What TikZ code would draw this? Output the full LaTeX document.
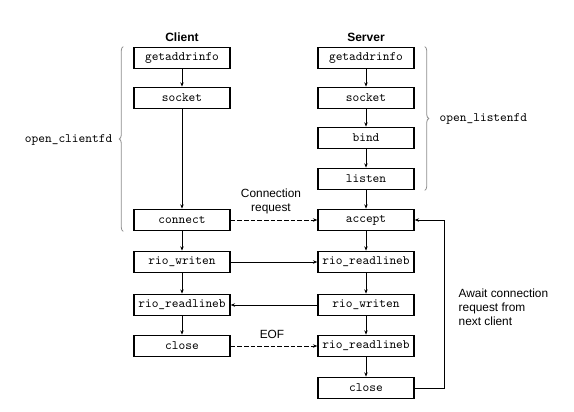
\documentclass[tikz,border=0pt]{standalone}
\usepackage{fontspec}
\setsansfont{Liberation Sans}
\usetikzlibrary{arrows.meta, positioning, decorations.pathreplacing}

\begin{document}
\begin{tikzpicture}[
    x=0.75pt, y=-0.75pt,
    >={Stealth[length=3.2pt, width=2.6pt]},
    fn/.style={draw, line width=1.1pt, minimum width=72pt, minimum height=16pt,
               inner sep=1pt, font=\fontsize{9.6}{11}\selectfont\ttfamily},
    lbl/.style={font=\fontsize{8.9}{10.5}\selectfont\sffamily},
    hdr/.style={font=\fontsize{9}{11}\selectfont\sffamily\bfseries},
    brc/.style={decorate, decoration={brace, amplitude=3pt}, black!45,
                line width=0.6pt},
    flow/.style={->, line width=0.5pt},
    msg/.style={->, line width=0.5pt, dash pattern=on 3.5pt off 1.5pt}
  ]
  \useasboundingbox (0,0) rectangle (574,411);

  % Client
  \node[hdr] (client) at (182, 37) {Client};
  \foreach \n/\y/\txt in {cgai/58/getaddrinfo, csock/98/socket,
      cconn/220/connect, cwrite/262/rio\_writen,
      cread/305/rio\_readlineb, cclose/346/close} {
    \node[fn] (\n) at (182, \y) {\txt};
  }

  % Server
  \node[hdr] (server) at (366, 37) {Server};
  \foreach \n/\y/\txt in {sgai/58/getaddrinfo, ssock/98/socket,
      sbind/138/bind, slisten/179/listen, saccept/220/accept,
      sread/262/rio\_readlineb, swrite/305/rio\_writen,
      sreadb/346/rio\_readlineb, sclose/388/close} {
    \node[fn] (\n) at (366, \y) {\txt};
  }

  % Control flow
  \draw[flow] (cgai) -- (csock);
  \draw[flow] (csock) -- (cconn);
  \draw[flow] (cconn) -- (cwrite);
  \draw[flow] (cwrite) -- (cread);
  \draw[flow] (cread) -- (cclose);
  \draw[flow] (sgai) -- (ssock);
  \draw[flow] (ssock) -- (sbind);
  \draw[flow] (sbind) -- (slisten);
  \draw[flow] (slisten) -- (saccept);
  \draw[flow] (saccept) -- (sread);
  \draw[flow] (sread) -- (swrite);
  \draw[flow] (swrite) -- (sreadb);
  \draw[flow] (sreadb) -- (sclose);

  % Messages between client and server
  \draw[msg] (cconn) -- (saccept);
  \draw[flow] (cwrite) -- (sread);
  \draw[flow] (swrite) -- (cread);
  \draw[msg] (cclose) -- (sreadb);
  \draw[flow] (sclose.east) -- ++(30,0) |- (saccept.east);

  \node[lbl, align=center] (connreq) at (271, 201) {Connection\\request};
  \node[lbl] (eof) at (272, 334) {EOF};
  \node[lbl, align=left, anchor=west] (await) at (454, 307)
    {Await connection\\request from\\next client};

  % Braces
  \draw[brc] ([xshift=-7.5pt]cconn.south west) -- ([xshift=-7.5pt]cgai.north west);
  \draw[brc] ([xshift=7.5pt]sgai.north east) -- ([xshift=7.5pt]slisten.south east);
  \node[anchor=east, font=\fontsize{9.6}{11}\selectfont\ttfamily]
    (clientfd) at (117, 139.5) {open\_clientfd};
  \node[anchor=west, font=\fontsize{9.6}{11}\selectfont\ttfamily]
    (listenfd) at (435, 118.5) {open\_listenfd};
\end{tikzpicture}
\end{document}
